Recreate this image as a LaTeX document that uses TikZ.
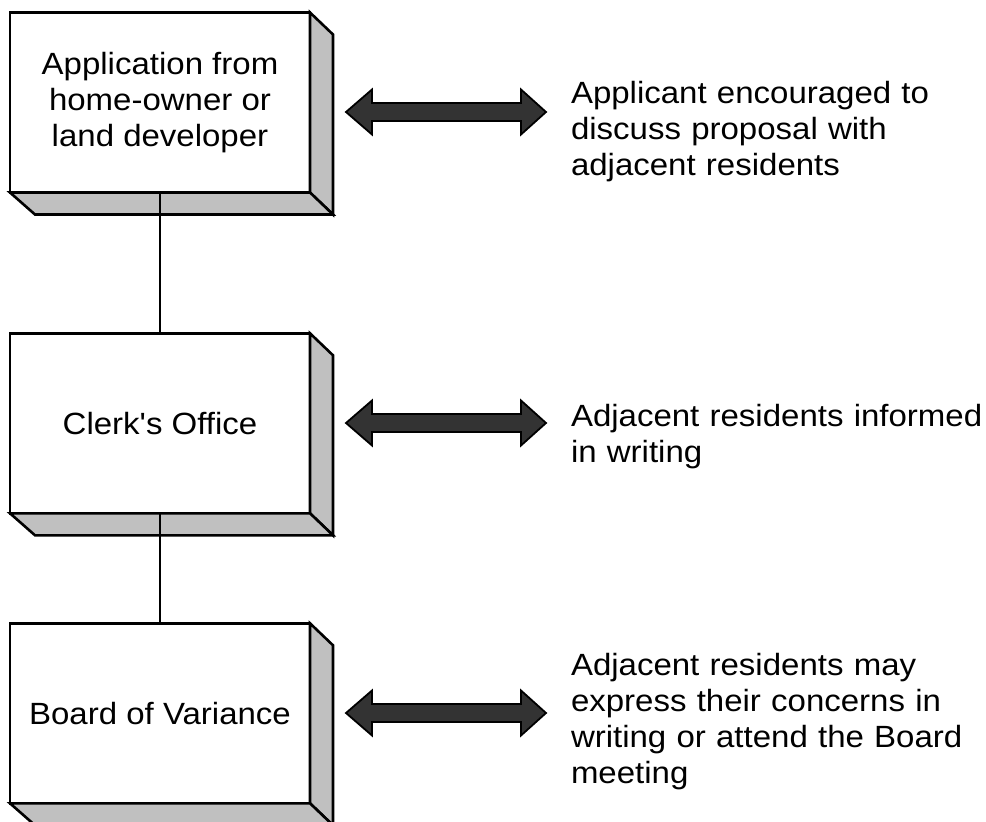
\documentclass[tikz,border=0pt]{standalone}
\usepackage{fontspec}
\setmainfont{Liberation Sans}[FakeStretch=1.075, Ligatures=TeXOff]
\definecolor{boxgray}{RGB}{192,192,192}
\definecolor{arrowgray}{RGB}{51,51,51}
\tikzset{
  frontbox/.style={draw, line width=2.6pt, fill=white, minimum width=300pt,
    minimum height=180pt, inner sep=0pt, outer sep=0pt, align=center},
  sideface/.style={draw, line width=2.6pt, fill=boxgray, line join=miter},
  link/.style={line width=2pt},
  note/.style={anchor=base west, inner sep=0pt, outer sep=0pt, text width=415pt, align=left},
  blockarrow/.style={draw, line width=1.8pt, fill=arrowgray, line join=miter},
  dblarrow/.pic={
    \draw[blockarrow] (-100,0) -- (-74,-22.5) -- (-74,-9) -- (75,-9) -- (75,-22.5)
      -- (100,0) -- (75,22.5) -- (75,9) -- (-74,9) -- (-74,22.5) -- cycle;
  }
}
\begin{document}
\begin{tikzpicture}[x=1pt, y=-1pt, every node/.append style={font=\fontsize{30.7}{36}\selectfont}]
  \useasboundingbox (0,0) rectangle (986,822);
  \clip (0,0) rectangle (986,822);

  % front faces of the three process boxes
  \node[frontbox] (app)   at (160,102.5) {Application from\\home-owner or\\land developer};
  \node[frontbox] (clerk) at (160,423.3) {Clerk's Office};
  \node[frontbox] (board) at (160,713.3) {Board of Variance};

  % shaded right and bottom faces giving the boxes depth
  \foreach \b in {app,clerk,board} {
    \draw[sideface] (\b.north east) -- ++(23,22) -- ([shift={(23,22)}]\b.south east)
      -- (\b.south east) -- cycle;
    \draw[sideface] (\b.south west) -- ++(25,22) -- ([shift={(23,22)}]\b.south east)
      -- (\b.south east) -- cycle;
  }

  % vertical links between the boxes
  \draw[link] (app.south) -- (clerk.north);
  \draw[link] (clerk.south) -- (board.north);

  % two-way block arrows
  \pic at (446,112) {dblarrow};
  \pic at (446,423) {dblarrow};
  \pic at (446,713) {dblarrow};

  % notes on resident involvement
  \node[note] (n1) at (571,103) {Applicant encouraged to\\discuss proposal with\\adjacent residents};
  \node[note] (n2) at (571,426) {Adjacent residents informed\\in writing};
  \node[note] (n3) at (571,675) {Adjacent residents may\\express their concerns in\\writing or attend the Board\\meeting};
\end{tikzpicture}
\end{document}
